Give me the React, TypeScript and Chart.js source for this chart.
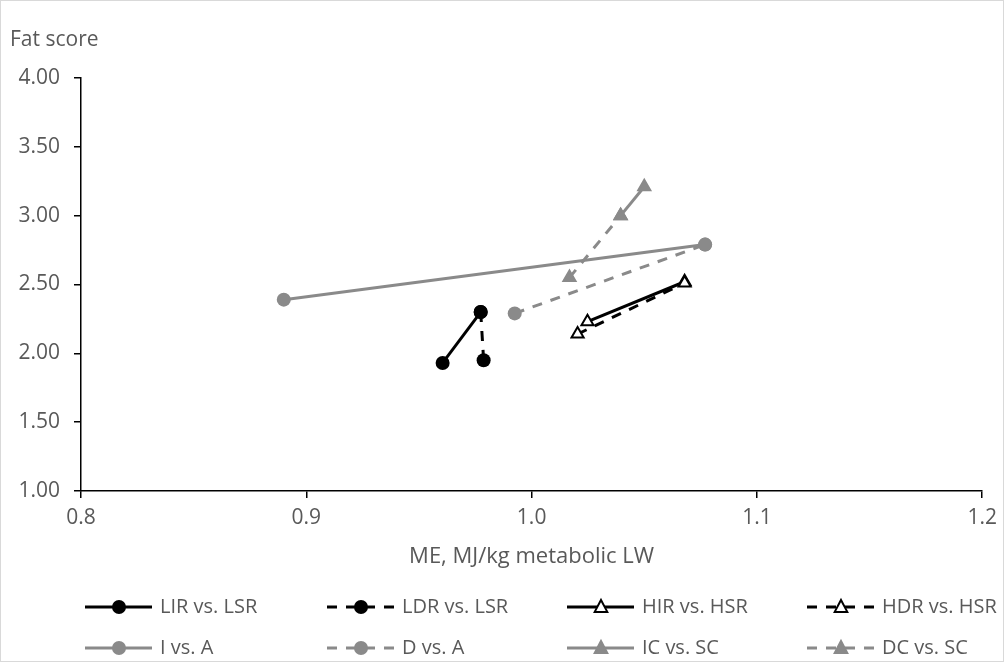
import React, { useEffect, useRef } from "react";
import { Chart, registerables } from "chart.js";

Chart.register(...registerables);

const seriesNames = [
  "LIR vs. LSR",
  "LDR vs. LSR",
  "HIR vs. HSR",
  "HDR vs. HSR",
  "I vs. A",
  "D vs. A",
  "IC vs. SC",
  "DC vs. SC",
];

const lirX = [0.9605, 0.9774];
const lirY = [1.93, 2.3];
const ldrX = [0.9774, 0.9787];
const ldrY = [2.3, 1.95];
const hirX = [1.0248, 1.0679];
const hirY = [2.23, 2.52];
const hdrX = [1.0204, 1.0679];
const hdrY = [2.14, 2.51];
const iaX = [0.89, 1.077];
const iaY = [2.39, 2.79];
const daX = [0.9925, 1.077];
const daY = [2.29, 2.79];
const icX = [1.0395, 1.05];
const icY = [3.0, 3.21];
const dcX = [1.0168, 1.0395];
const dcY = [2.55, 3.0];

const xTicks = [0.8, 0.9, 1.0, 1.1, 1.2];
const yTicks = [1.0, 1.5, 2.0, 2.5, 3.0, 3.5, 4.0];

const yTitle = "Fat score";
const xTitle = "ME, MJ/kg metabolic LW";

const FONT = "'Open Sans', sans-serif";
const TEXT = "#595959";
const GRAY = "#8a8a8a";

const pts = (xs: number[], ys: number[]) => xs.map((x, i) => ({ x, y: ys[i] }));

const styles = [
  { color: "#000", dash: [], shape: "circle", fill: "#000", r: 7 },
  { color: "#000", dash: [10, 9], shape: "circle", fill: "#000", r: 7 },
  { color: "#000", dash: [], shape: "triangle", fill: "#fff", r: 7 },
  { color: "#000", dash: [10, 9], shape: "triangle", fill: "#fff", r: 7 },
  { color: GRAY, dash: [], shape: "circle", fill: GRAY, r: 7 },
  { color: GRAY, dash: [10, 9], shape: "circle", fill: GRAY, r: 7 },
  { color: GRAY, dash: [], shape: "triangle", fill: GRAY, r: 7 },
  { color: GRAY, dash: [10, 9], shape: "triangle", fill: GRAY, r: 7 },
];

const seriesData = [
  pts(lirX, lirY),
  pts(ldrX, ldrY),
  pts(hirX, hirY),
  pts(hdrX, hdrY),
  pts(iaX, iaY),
  pts(daX, daY),
  pts(icX, icY),
  pts(dcX, dcY),
];

const drawMarker = (ctx: CanvasRenderingContext2D, s: any, x: number, y: number) => {
  ctx.save();
  ctx.setLineDash([]);
  ctx.fillStyle = s.fill;
  ctx.strokeStyle = s.color;
  ctx.lineWidth = 2;
  ctx.beginPath();
  if (s.shape === "circle") {
    ctx.arc(x, y, s.r, 0, Math.PI * 2);
    ctx.fill();
  } else {
    const r = s.r;
    ctx.moveTo(x, y - r);
    ctx.lineTo(x + r * 0.9, y + r * 0.7);
    ctx.lineTo(x - r * 0.9, y + r * 0.7);
    ctx.closePath();
    ctx.fill();
    ctx.stroke();
  }
  ctx.restore();
};

const decorPlugin = {
  id: "decor",
  afterDraw(chart: any) {
    const ctx: CanvasRenderingContext2D = chart.ctx;
    const area = chart.chartArea;
    ctx.save();
    ctx.strokeStyle = "#d9d9d9";
    ctx.lineWidth = 1;
    ctx.strokeRect(0.5, 0.5, chart.width - 1, chart.height - 1);
    ctx.fillStyle = TEXT;
    ctx.font = `21px ${FONT}`;
    ctx.textBaseline = "middle";
    ctx.textAlign = "left";
    ctx.fillText(yTitle, 10, 40);
    ctx.font = `22px ${FONT}`;
    ctx.textAlign = "center";
    ctx.fillText(xTitle, (area.left + area.right) / 2, 557);
    const colX = [85, 327, 567, 807];
    const rowY = [607, 648];
    seriesNames.forEach((name, i) => {
      const s = styles[i];
      const x0 = colX[i % 4];
      const y0 = rowY[Math.floor(i / 4)];
      ctx.save();
      ctx.strokeStyle = s.color;
      ctx.lineWidth = 3;
      ctx.setLineDash(s.dash);
      ctx.beginPath();
      ctx.moveTo(x0, y0);
      ctx.lineTo(x0 + 67, y0);
      ctx.stroke();
      ctx.restore();
      drawMarker(ctx, s, x0 + 34, y0);
      ctx.fillStyle = TEXT;
      ctx.font = `20px ${FONT}`;
      ctx.textAlign = "left";
      ctx.textBaseline = "middle";
      ctx.fillText(name, x0 + 75, y0);
    });
    ctx.restore();
  },
};

export default function App() {
  const ref = useRef<HTMLCanvasElement>(null);
  useEffect(() => {
    document.body.style.margin = "0";
    const canvas = ref.current!;
    const chart = new Chart(canvas, {
      type: "scatter",
      data: {
        datasets: seriesData.map((d, i) => ({
          label: seriesNames[i],
          data: d,
          showLine: true,
          borderColor: styles[i].color,
          borderWidth: 3,
          borderDash: styles[i].dash,
          backgroundColor: styles[i].fill,
          pointBackgroundColor: styles[i].fill,
          pointBorderColor: styles[i].color,
          pointBorderWidth: styles[i].shape === "triangle" ? 2 : 0,
          pointStyle: styles[i].shape,
          pointRadius: styles[i].r,
          pointHoverRadius: styles[i].r,
          order: 8 - i,
        })),
      },
      options: {
        animation: false,
        responsive: false,
        events: [],
        layout: { padding: { top: 78, right: 21, left: 0, bottom: 0 } },
        plugins: { legend: { display: false }, tooltip: { enabled: false } },
        scales: {
          x: {
            type: "linear",
            min: 0.8,
            max: 1.2,
            afterBuildTicks: (s: any) => {
              s.ticks = xTicks.map((v) => ({ value: v }));
            },
            afterFit: (s: any) => {
              s.height = 662 - 491;
            },
            ticks: {
              callback: (v: any) => Number(v).toFixed(1),
              color: TEXT,
              font: { family: FONT, size: 21 },
              padding: 7,
              maxRotation: 0,
            },
            grid: { drawOnChartArea: false, drawTicks: true, tickLength: 7, color: "#000", lineWidth: 1.5 },
            border: { color: "#000", width: 1.5 },
          },
          y: {
            type: "linear",
            min: 1,
            max: 4,
            afterBuildTicks: (s: any) => {
              s.ticks = yTicks.map((v) => ({ value: v }));
            },
            afterFit: (s: any) => {
              s.width = 81;
            },
            ticks: {
              callback: (v: any) => Number(v).toFixed(2),
              color: TEXT,
              font: { family: FONT, size: 21 },
              padding: 14,
            },
            grid: { drawOnChartArea: false, drawTicks: true, tickLength: 7, color: "#000", lineWidth: 1.5 },
            border: { color: "#000", width: 1.5 },
          },
        },
      },
      plugins: [decorPlugin],
    } as any);
    return () => chart.destroy();
  }, []);
  return <canvas ref={ref} width={1004} height={662} style={{ display: "block" }} />;
}
